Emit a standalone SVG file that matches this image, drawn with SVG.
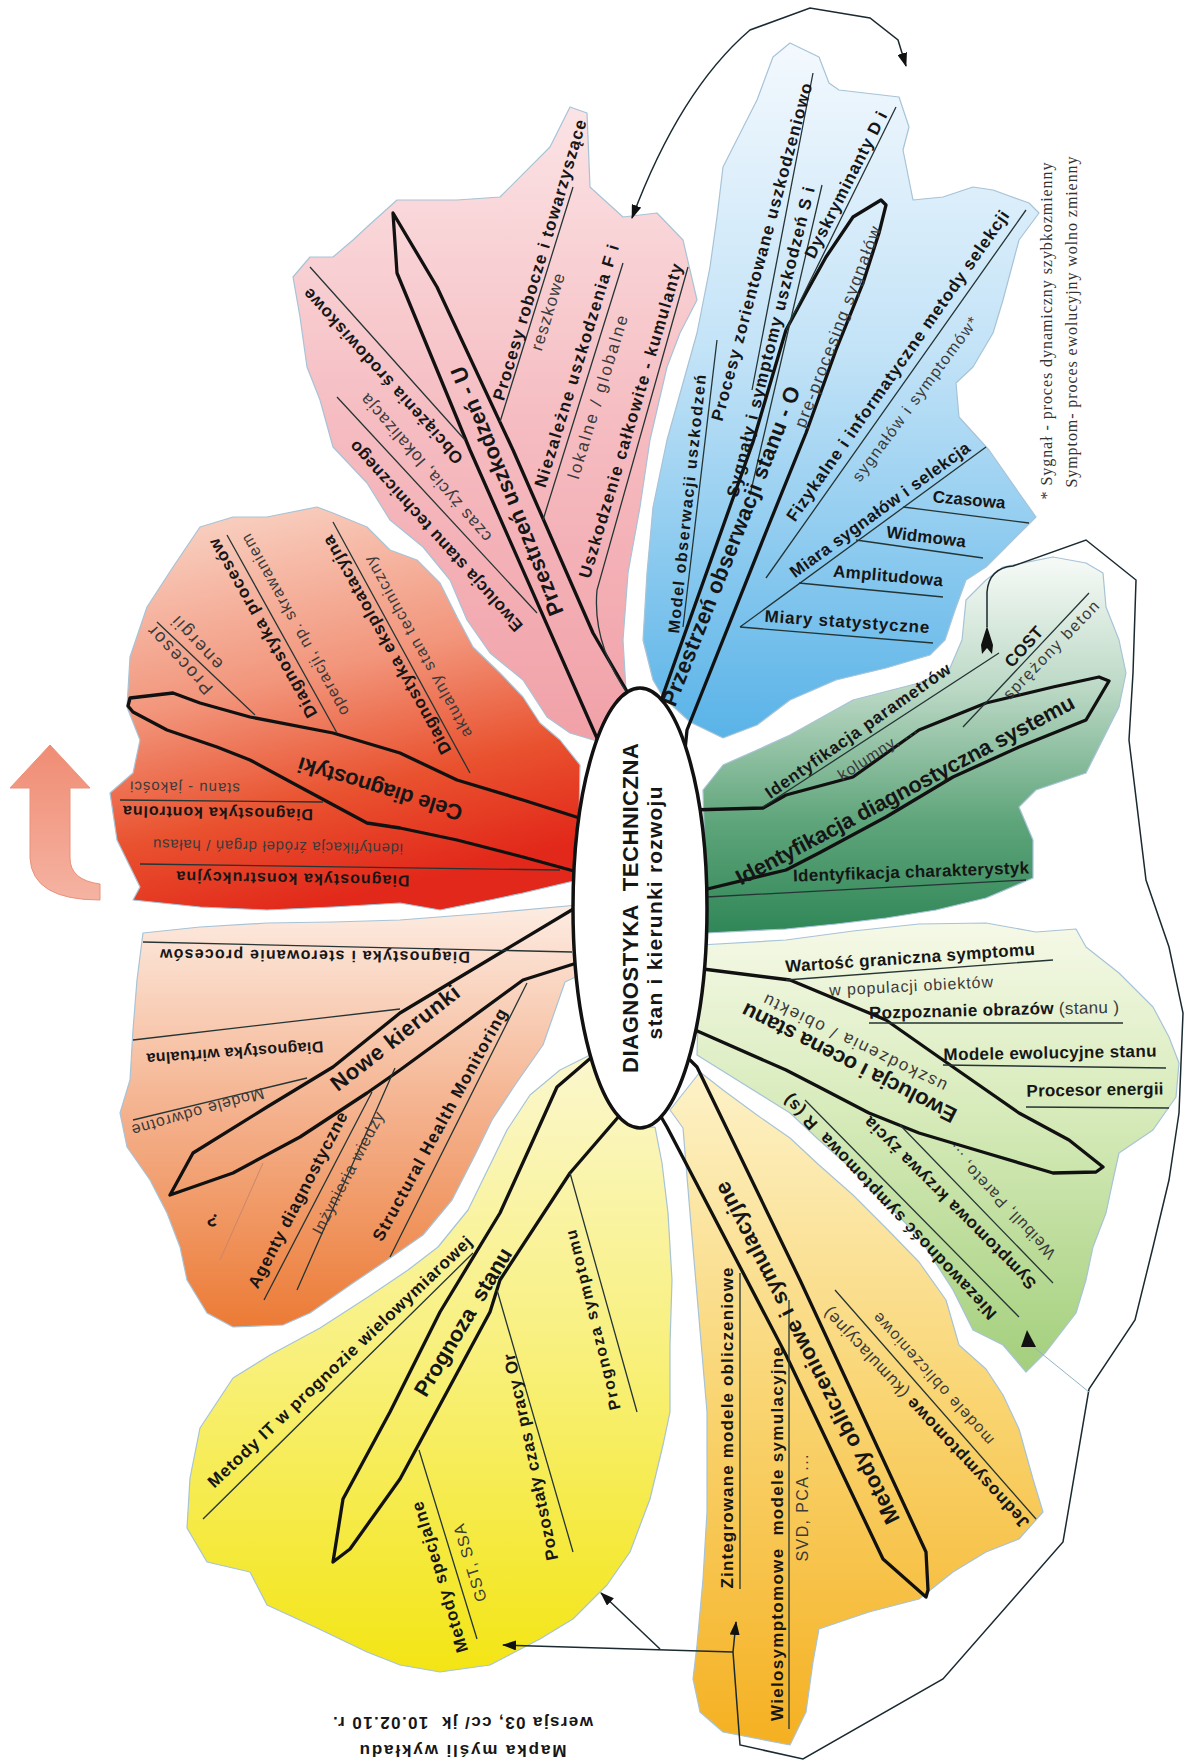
<svg xmlns="http://www.w3.org/2000/svg" width="1186" height="1762" viewBox="0 0 1186 1762">
<defs>
<style>
.b{font-family:"Liberation Sans",Arial,sans-serif;font-weight:bold;fill:#161616;text-anchor:middle;dominant-baseline:central}
.r{font-family:"Liberation Sans",Arial,sans-serif;fill:#3a3a3a;text-anchor:middle;dominant-baseline:central}
.s{font-family:"Liberation Serif","Times New Roman",serif;fill:#333;text-anchor:middle;dominant-baseline:central}
.petal{stroke:#a7c3d6;stroke-width:1.2;stroke-linejoin:round}
.main{fill:none;stroke:#111;stroke-width:3.3;stroke-linejoin:round;stroke-linecap:round}
.ln{fill:none;stroke:#253535;stroke-width:1.3}
.con{fill:none;stroke:#1a2a30;stroke-width:1.5}
</style>
<linearGradient id="gPink" gradientUnits="userSpaceOnUse" x1="0" y1="110" x2="0" y2="740"><stop offset="0" stop-color="#fbe3e5"/><stop offset="0.5" stop-color="#f5bcc1"/><stop offset="1" stop-color="#f1a1a8"/></linearGradient>
<linearGradient id="gRed" gradientUnits="userSpaceOnUse" x1="200" y1="505" x2="300" y2="910"><stop offset="0" stop-color="#f9d4c6"/><stop offset="0.45" stop-color="#f2967c"/><stop offset="0.75" stop-color="#e9522f"/><stop offset="1" stop-color="#e2281a"/></linearGradient>
<linearGradient id="gBlue" gradientUnits="userSpaceOnUse" x1="0" y1="40" x2="0" y2="730"><stop offset="0" stop-color="#f4f9fe"/><stop offset="0.45" stop-color="#c3e3f7"/><stop offset="1" stop-color="#5bb4e8"/></linearGradient>
<linearGradient id="gDG" gradientUnits="userSpaceOnUse" x1="0" y1="555" x2="0" y2="935"><stop offset="0" stop-color="#f8fbf8"/><stop offset="0.35" stop-color="#bcd9c6"/><stop offset="0.7" stop-color="#5fa57b"/><stop offset="1" stop-color="#2f8656"/></linearGradient>
<linearGradient id="gLG" gradientUnits="userSpaceOnUse" x1="0" y1="920" x2="0" y2="1372"><stop offset="0" stop-color="#f6f9e8"/><stop offset="0.4" stop-color="#d9ecbd"/><stop offset="1" stop-color="#a3cf7c"/></linearGradient>
<linearGradient id="gMet" gradientUnits="userSpaceOnUse" x1="0" y1="1070" x2="0" y2="1745"><stop offset="0" stop-color="#fdf2c8"/><stop offset="0.5" stop-color="#f9d470"/><stop offset="1" stop-color="#f5b021"/></linearGradient>
<linearGradient id="gYel" gradientUnits="userSpaceOnUse" x1="0" y1="1050" x2="0" y2="1672"><stop offset="0" stop-color="#fbf7cf"/><stop offset="0.5" stop-color="#f8f07a"/><stop offset="1" stop-color="#f3e514"/></linearGradient>
<linearGradient id="gOr" gradientUnits="userSpaceOnUse" x1="0" y1="905" x2="0" y2="1330"><stop offset="0" stop-color="#fdece2"/><stop offset="0.5" stop-color="#f4b08b"/><stop offset="1" stop-color="#ec7a34"/></linearGradient>
<linearGradient id="gArr" gradientUnits="userSpaceOnUse" x1="0" y1="745" x2="0" y2="900"><stop offset="0" stop-color="#f08c74"/><stop offset="1" stop-color="#f5b3a2"/></linearGradient>
<marker id="ah" viewBox="0 0 14 10" refX="13" refY="5" markerWidth="14" markerHeight="10" markerUnits="userSpaceOnUse" orient="auto-start-reverse"><path d="M0,0 L14,5 L0,10 Z" fill="#111"/></marker>
</defs>
<rect width="1186" height="1762" fill="#fff"/>

<g id="arrow-left">
<path d="M50,745 L90,788 L70,788 L70,858 Q70,880 100,884 L100,900 Q32,900 30,858 L30,788 L10,788 Z" fill="url(#gArr)" stroke="#e9917b" stroke-width="1"/>
</g>

<g id="branch-cele">
<path class="petal" fill="url(#gRed)" d="M580,765 L560,740 L540,723 L523,697 L500,673 L473,647 L457,617 L440,583 L417,560 L390,550 L367,527 L333,513 L317,507 L267,517 L233,517 L200,527 L173,567 L147,607 L130,657 L127,707 L140,740 L133,773 L110,793 L117,840 L140,887 L133,900 L200,907 L267,910 L333,907 L400,903 L440,910 L490,900 L523,893 L578,880 Z"/>
<path class="main" d="M592,822 L523,800 L457,780 L400,753 L333,733 L250,717 L200,703 L173,693 L130,698 L128,706 L133,712 L167,730 L217,747 L250,760 L300,787 L367,823 L400,828 L457,840 L523,857 L592,876"/>
<path class="ln" d="M140,864 L560,870 M120,800 L323,802 M157,622 L255,715 M227,535 L337,733 M333,522 L470,773"/>
<text class="b" font-size="22" transform="translate(380 789) rotate(197)" textLength="171">Cele diagnostyki</text>
<text class="b" font-size="16" transform="translate(293 879) rotate(181)" textLength="233">Diagnostyka konstrukcyjna</text>
<text class="r" font-size="15" transform="translate(278 847) rotate(181)" textLength="250">identyfikacja źródeł drgań / hałasu</text>
<text class="b" font-size="16" transform="translate(218 813) rotate(181)" textLength="190">Diagnostyka kontrolna</text>
<text class="r" font-size="15" transform="translate(185 788) rotate(181)" textLength="110">stanu - jakości</text>
<text class="r" font-size="18" transform="translate(180 660) rotate(227)" textLength="87">Procesor</text>
<text class="r" font-size="18" transform="translate(197 643) rotate(227)" textLength="66">energii</text>
<text class="b" font-size="17" transform="translate(263 628) rotate(240.5)" textLength="203">Diagnostyka procesów</text>
<text class="r" font-size="16" transform="translate(295 625) rotate(241)" textLength="205">operacji, np. skrawaniem</text>
<text class="b" font-size="17" transform="translate(387 645) rotate(241)" textLength="247">Diagnostyka eksploatacyjna</text>
<text class="r" font-size="16" transform="translate(418 647) rotate(241)" textLength="205">aktualny stan techniczny</text>
</g>

<g id="branch-uszkodzenia">
<path class="petal" fill="url(#gPink)" d="M600,742 L570,733 L547,717 L523,680 L490,653 L467,620 L450,580 L423,547 L390,520 L367,483 L333,447 L320,400 L307,367 L300,317 L293,277 L310,257 L333,257 L353,240 L367,227 L397,200 L457,200 L500,197 L550,147 L570,107 L587,113 L590,187 L623,217 L657,213 L683,240 L697,300 L680,333 L667,367 L650,440 L640,507 L628,573 L623,640 L626,690 Z"/>
<path class="main" d="M600,745 L470,450 L397,273 L393,213 L437,287 L513,450 L593,633 L632,700"/>
<path class="ln" d="M310,267 L465,440 M337,397 L537,613 M573,187 L500,422 M623,263 L543,520 M688,267 L597,590 Q592,645 630,697"/>
<text class="b" font-size="22" transform="translate(507 491) rotate(-112)" textLength="267">Przestrzeń uszkodzeń - U</text>
<text class="b" font-size="17" transform="translate(383 376) rotate(228)" textLength="230">Obciążenia środowiskowe</text>
<text class="r" font-size="17" transform="translate(426 468) rotate(229)" textLength="190">czas życia, lokalizacja</text>
<text class="b" font-size="17" transform="translate(436 536) rotate(228)" textLength="250">Ewolucja stanu technicznego</text>
<text class="b" font-size="17" transform="translate(540 260) rotate(-73.5)" textLength="292">Procesy robocze i towarzyszące</text>
<text class="r" font-size="17" transform="translate(548 312) rotate(-73)" textLength="80">reszkowe</text>
<text class="b" font-size="17" transform="translate(577 366) rotate(-73)" textLength="253">Niezależne uszkodzenia F i</text>
<text class="r" font-size="17" transform="translate(598 397) rotate(-73)" textLength="170">lokalne / globalne</text>
<text class="b" font-size="17" transform="translate(631 421) rotate(-73.5)" textLength="327">Uszkodzenie całkowite - kumulanty</text>
</g>

<g id="branch-obserwacje">
<path class="petal" fill="url(#gBlue)" d="M663,697 L653,680 L643,640 L647,573 L653,507 L667,440 L683,383 L697,333 L710,267 L717,217 L723,167 L757,100 L773,57 L790,43 L819,57 L829,83 L839,90 L899,97 L909,127 L903,150 L913,200 L943,197 L973,187 L993,190 L1029,203 L1039,213 L1019,240 L1003,300 L993,333 L973,367 L956,383 L959,417 L989,450 L1019,493 L1036,517 L1026,527 L1003,550 L986,567 L966,580 L955,610 L945,640 L930,655 L886,668 L836,680 L790,700 L757,725 L723,738 L690,722 Z"/>
<path class="main" d="M655,730 L663,695 L753,442 L786,330 L806,293 L826,257 L853,217 L881,200 L886,205 L879,233 L863,283 L836,350 L806,433 L768,527 L687,730 L685,750"/>
<path class="ln" d="M717,340 L683,627 M813,73 L752,390 M822,185 L750,495 M896,107 L786,330 M1026,210 L766,578 M986,447 L740,627 M903,507 L1029,523 M856,540 L983,558 M799,583 L943,597 M740,627 L933,643"/>
<text class="b" font-size="16" transform="translate(687 504) rotate(-84)" textLength="260">Model obserwacji uszkodzeń</text>
<text class="b" font-size="17" transform="translate(762 252) rotate(-75)" textLength="349">Procesy zorientowane uszkodzeniowo</text>
<text class="b" font-size="17" transform="translate(771 342) rotate(-76)" textLength="319">Sygnały i symptomy uszkodzeń S i</text>
<text class="b" font-size="17" transform="translate(846 185) rotate(-63)" textLength="162">Dyskryminanty D i</text>
<text class="b" font-size="22" transform="translate(731 546) rotate(-68.4)" textLength="342">Przestrzeń obserwacji stanu - O</text>
<text class="r" font-size="17" transform="translate(838 327) rotate(-69)" textLength="214">pre-procesing sygnałów</text>
<text class="b" font-size="17" transform="translate(898 366) rotate(-55)" textLength="375">Fizykalne i informatyczne metody selekcji</text>
<text class="r" font-size="16" transform="translate(915 399) rotate(-53.5)" textLength="200">sygnałów i symptomów*</text>
<text class="b" font-size="17" transform="translate(880 510) rotate(-36)" textLength="218">Miara sygnałów i selekcja</text>
<text class="b" font-size="17" transform="translate(969 500) rotate(5)" textLength="73">Czasowa</text>
<text class="b" font-size="17" transform="translate(926 537) rotate(7)" textLength="80">Widmowa</text>
<text class="b" font-size="17" transform="translate(888 576) rotate(5)" textLength="110">Amplitudowa</text>
<text class="b" font-size="17" transform="translate(847 622) rotate(4)" textLength="165">Miary statystyczne</text>
<text class="s" font-size="16" transform="translate(1046 331) rotate(-90)" textLength="337">* Sygnał - proces dynamiczny szybkozmienny</text>
<text class="s" font-size="16" transform="translate(1071 322) rotate(-90)" textLength="331">Symptom- proces ewolucyjny wolno zmienny</text>
</g>

<g id="branch-identyfikacja">
<path class="petal" fill="url(#gDG)" d="M703,790 L723,765 L757,750 L790,735 L853,700 L919,683 L950,668 L962,640 L966,600 L986,580 L1003,567 L1053,557 L1086,563 L1103,573 L1106,607 L1119,640 L1126,673 L1119,707 L1086,773 L1036,790 L1019,807 L1033,840 L1033,878 L986,898 L936,910 L886,918 L836,924 L786,929 L707,933 Z"/>
<path class="main" d="M690,810 L763,808 L786,795 L853,777 L919,730 L986,703 L1053,687 L1099,677 L1109,681 L1086,720 L1019,747 L953,777 L886,817 L819,853 L786,870 L695,892"/>
<path class="ln" d="M999,653 L763,807 M1089,593 L963,727 M707,897 L1026,880"/>
<text class="b" font-size="22" transform="translate(905 790) rotate(-28)" textLength="380">Identyfikacja diagnostyczna systemu</text>
<text class="b" font-size="17" transform="translate(858 731) rotate(-35)" textLength="222">Identyfikacja parametrów</text>
<text class="r" font-size="16" transform="translate(877 752) rotate(-33)" textLength="90">kolumny, ...</text>
<text class="b" font-size="17" transform="translate(1024 647) rotate(-48)" textLength="48">COST</text>
<text class="r" font-size="16" transform="translate(1051 650) rotate(-46)" textLength="130">sprężony beton</text>
<text class="b" font-size="17" transform="translate(911 872) rotate(-2)" textLength="236">Identyfikacja charakterystyk</text>
</g>

<g id="branch-ewolucja">
<path class="petal" fill="url(#gLG)" d="M700,945 L786,940 L853,931 L919,924 L986,923 L1036,932 L1076,929 L1086,947 L1119,973 L1153,1007 L1169,1037 L1179,1063 L1176,1097 L1153,1130 L1119,1153 L1113,1180 L1106,1213 L1093,1247 L1086,1280 L1076,1313 L1046,1352 L1026,1372 L1003,1345 L973,1330 L953,1290 L919,1237 L886,1203 L853,1170 L819,1140 L790,1113 L697,1055 Z"/>
<path class="main" d="M695,968 L790,980 L886,1020 L953,1067 L1019,1113 L1069,1140 L1103,1167 L1096,1172 L1053,1173 L986,1153 L919,1133 L869,1113 L819,1087 L786,1070 L695,1030"/>
<path class="ln" d="M786,980 L1053,960 M869,1023 L1123,1023 M943,1065 L1166,1068 M1026,1107 L1169,1108 M1053,1283 L900,1125 M1019,1317 L805,1100"/>
<text class="b" font-size="22" transform="translate(849 1063) rotate(207)" textLength="238">Ewolucja i ocena stanu</text>
<text class="r" font-size="17" transform="translate(855 1043) rotate(206)" textLength="202">uszkodzenia / obiektu</text>
<text class="b" font-size="17" transform="translate(910 958) rotate(-4)" textLength="250">Wartość graniczna symptomu</text>
<text class="r" font-size="16" transform="translate(911 986) rotate(-3)" textLength="164">w populacji obiektów</text>
<text class="b" font-size="17" transform="translate(994 1010) rotate(-1.5)" textLength="250">Rozpoznanie obrazów <tspan font-weight="normal" fill="#3a3a3a">(stanu )</tspan></text>
<text class="b" font-size="17" transform="translate(1050 1053) rotate(-1)" textLength="213">Modele ewolucyjne stanu</text>
<text class="b" font-size="17" transform="translate(1095 1090) rotate(-1)" textLength="137">Procesor energii</text>
<text class="b" font-size="17" transform="translate(950 1203) rotate(225)" textLength="236">Symptomowa krzywa życia</text>
<text class="r" font-size="16" transform="translate(1001 1202) rotate(226.6)" textLength="150">Weibull, Pareto, ...</text>
<text class="b" font-size="17" xml:space="preserve" transform="translate(890 1207) rotate(226.7)" textLength="302">Niezawodność symptomowa  R (s)</text>
</g>

<g id="branch-metody">
<path class="petal" fill="url(#gMet)" d="M670,1110 L683,1128 L690,1213 L700,1330 L707,1412 L707,1512 L703,1579 L697,1645 L693,1679 L700,1712 L723,1732 L790,1745 L806,1712 L813,1662 L819,1629 L869,1612 L919,1599 L953,1572 L986,1552 L1019,1539 L1043,1512 L1033,1479 L1019,1429 L1003,1395 L986,1369 L959,1345 L946,1300 L919,1262 L886,1228 L853,1195 L819,1165 L790,1138 L757,1115 L723,1090 L700,1072 Z"/>
<path class="main" d="M690,1060 L697,1067 L800,1280 L926,1552 L928,1590 L926,1597 L883,1559 L786,1355 L667,1127 L660,1115"/>
<path class="ln" d="M1036,1519 L835,1290 M740,1273 L740,1589 M789,1300 L789,1729"/>
<text class="b" font-size="22" transform="translate(807 1353) rotate(243)" textLength="381">Metody obliczeniowe i symulacyjne</text>
<text class="b" font-size="17" transform="translate(926 1418) rotate(227)" textLength="294">Jednosymptomowe <tspan font-weight="normal" fill="#3a3a3a">(kumulacyjne)</tspan></text>
<text class="r" font-size="16" transform="translate(933 1379) rotate(228)" textLength="172">modele obliczeniowe</text>
<text class="b" font-size="17" transform="translate(727 1428) rotate(-90)" textLength="321">Zintegrowane modele obliczeniowe</text>
<text class="b" font-size="17" xml:space="preserve" transform="translate(777 1534) rotate(-90)" textLength="374">Wielosymptomowe  modele symulacyjne</text>
<text class="r" font-size="16" transform="translate(802 1508) rotate(-90)" textLength="107">SVD, PCA ...</text>
</g>

<g id="branch-prognoza">
<path class="petal" fill="url(#gYel)" d="M590,1055 L560,1070 L530,1095 L507,1130 L490,1165 L468,1210 L438,1247 L408,1270 L368,1297 L320,1328 L270,1355 L233,1378 L200,1428 L190,1478 L187,1528 L207,1562 L250,1572 L267,1605 L317,1628 L367,1652 L400,1665 L440,1672 L490,1665 L540,1639 L573,1619 L607,1585 L630,1552 L650,1499 L663,1445 L670,1412 L670,1345 L672,1280 L668,1213 L662,1163 L655,1127 L640,1128 L615,1100 Z"/>
<path class="main" d="M600,1050 L557,1087 L530,1147 L500,1213 L440,1312 L390,1412 L343,1499 L333,1562 L350,1549 L400,1479 L490,1312 L500,1280 L570,1173 L620,1115"/>
<path class="ln" d="M203,1519 L473,1253 M573,1552 L497,1290 M637,1412 L570,1173 M477,1639 L419,1450"/>
<text class="b" font-size="22" xml:space="preserve" transform="translate(463 1322) rotate(-59)" textLength="169">Prognoza  stanu</text>
<text class="b" font-size="17" transform="translate(340 1362) rotate(-43.5)" textLength="357">Metody IT w prognozie wielowymiarowej</text>
<text class="b" font-size="17" transform="translate(531 1457) rotate(-102)" textLength="211">Pozostały czas pracy Or</text>
<text class="b" font-size="16" transform="translate(593 1320) rotate(-104)" textLength="185">Prognoza symptomu</text>
<text class="b" font-size="17" transform="translate(440 1577) rotate(-107)" textLength="157">Metody specjalne</text>
<text class="r" font-size="16" transform="translate(470 1563) rotate(-107)" textLength="80">GST, SSA</text>
</g>

<g id="branch-nowe">
<path class="petal" fill="url(#gOr)" d="M578,905 L490,913 L400,920 L333,922 L267,923 L200,927 L143,933 L137,980 L133,1030 L130,1080 L120,1113 L127,1147 L150,1180 L167,1213 L180,1247 L187,1280 L207,1313 L233,1327 L283,1325 L310,1313 L353,1283 L393,1256 L423,1235 L452,1200 L475,1155 L492,1120 L515,1085 L543,1045 L565,982 L580,975 Z"/>
<path class="main" d="M580,905 L400,1013 L333,1067 L267,1107 L193,1153 L170,1195 L233,1173 L300,1137 L367,1093 L400,1070 L523,980 L580,962"/>
<path class="ln" d="M143,942 L572,952 M133,1040 L400,1009 M133,1120 L307,1078 M264,1300 L372,1092 M297,1290 L395,1068 M390,1257 L527,983"/>
<path d="M263,1163 L220,1260" fill="none" stroke="#c9876a" stroke-width="1"/>
<text class="b" font-size="22" transform="translate(395 1038) rotate(-38)" textLength="157">Nowe kierunki</text>
<text class="b" font-size="16" transform="translate(315 956) rotate(180.5)" textLength="310">Diagnostyka i sterowanie procesów</text>
<text class="b" font-size="16" transform="translate(235 1053) rotate(176)" textLength="177">Diagnostyka wirtualna</text>
<text class="r" font-size="16" transform="translate(198 1112) rotate(164)" textLength="137">Modele odwrotne</text>
<text class="b" font-size="18" transform="translate(213 1220) rotate(200)">?</text>
<text class="b" font-size="17" transform="translate(298 1200) rotate(-62.6)" textLength="196">Agenty diagnostyczne</text>
<text class="r" font-size="16" transform="translate(348 1173) rotate(-62.3)" textLength="136">Inżynieria wiedzy</text>
<text class="b" font-size="17" transform="translate(440 1125) rotate(-61.3)" textLength="262">Structural Health Monitoring</text>
</g>

<g id="center-node">
<ellipse cx="640" cy="908" rx="67" ry="220" fill="#fff" stroke="#111" stroke-width="3.5"/>
<text class="b" font-size="22" xml:space="preserve" transform="translate(630 908) rotate(-90)" textLength="330">DIAGNOSTYKA  TECHNICZNA</text>
<text class="b" font-size="21" transform="translate(654 913) rotate(-90)" textLength="253">stan i kierunki rozwoju</text>
</g>

<g id="footer">
<text class="b" font-size="17" xml:space="preserve" transform="translate(463 1722) rotate(180)" textLength="260">wersja 03, cc/ jk  10.02.10 r.</text>
<text class="b" font-size="17" transform="translate(463 1750) rotate(180)" textLength="207">Mapka myśli wykładu</text>
</g>

<g id="connectors">
<path class="con" d="M906,66 L898,40 L870,18 L810,8 L750,30 Q680,90 632,218" marker-start="url(#ah)" marker-end="url(#ah)"/>
<path class="con" d="M987,627 L987,592 Q989,568 1013,566 L1086,540 L1136,580 L1133,673 L1129,740 L1146,880 L1169,947 L1183,1013 L1179,1113 L1169,1180 L1153,1247 L1135,1320 L1089,1389 L1063,1542 L943,1679 L803,1759 L740,1745 L733,1652"/>
<path d="M987,626 L993,645 L992,654 L987,648 L982,654 L981,645 Z" fill="#111"/>
<path class="con" d="M733,1652 L736,1622" marker-end="url(#ah)"/>
<path class="con" d="M733,1652 L503,1645" marker-end="url(#ah)"/>
<path class="con" d="M660,1649 L601,1593" marker-end="url(#ah)"/>
<path d="M1031,1345 L1089,1392" fill="none" stroke="#8fb3c8" stroke-width="1"/>
<path d="M1027,1330 L1036,1347 L1021,1347 Z" fill="#111"/>
</g>
</svg>
